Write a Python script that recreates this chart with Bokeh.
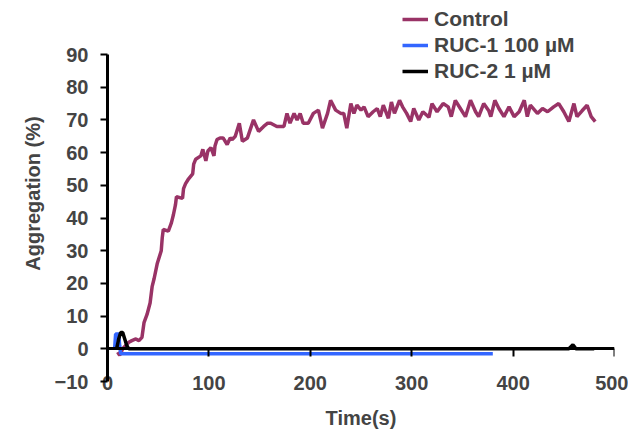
from bokeh.plotting import figure
from bokeh.models import LinearAxis, FixedTicker, Legend, LegendItem, CustomJSTickFormatter, Range1d
from bokeh.embed import file_html
from bokeh.resources import INLINE

# ---- data ----
ctrl_t = [10, 12, 15, 18, 21, 24, 28, 31, 34, 36, 39, 42, 44, 46, 49, 51, 53, 54, 55, 60,
          63, 65, 67, 68, 74, 75, 77, 80, 84, 85, 87, 92, 94, 97, 99, 102, 105, 106, 108, 111,
          114, 118, 121, 123, 126, 130, 133, 138, 144, 149, 154, 158, 161, 167, 174, 177, 180,
          184, 187, 190, 193, 198, 203, 208, 212, 217, 220, 225, 230, 233, 236, 240, 243, 246,
          250, 253, 257, 262, 266, 269, 272, 277, 280, 283, 288, 291, 295, 299, 302, 307, 311,
          317, 320, 325, 331, 336, 339, 343, 348, 353, 358, 363, 366, 371, 376, 378, 382, 386,
          391, 396, 401, 406, 411, 414, 417, 424, 429, 434, 440, 445, 450, 455, 460, 463, 468,
          473, 477, 481]
ctrl_v = [-1, -2, 0, 1, 2, 2.5, 3, 2.5, 3.5, 8, 10.5, 14, 19, 21.5, 26, 28, 30, 34, 36.5, 36,
          38.5, 41, 44, 46.5, 46, 49, 50.5, 52, 53.5, 56.5, 58, 59, 61, 57.5, 60.5, 61.5, 59, 62,
          64, 64.5, 64.5, 62.5, 64.5, 64, 65, 69, 63.5, 64.5, 70, 66.5, 68, 69, 69, 68, 68, 72,
          69, 72, 70, 72, 69, 69, 72, 73, 67.5, 72, 76, 73, 72, 72, 67.5, 75, 72, 74.5,
          73, 74, 71, 72.5, 73.5, 71, 74.5, 70.5, 75.5, 72, 76, 74, 72, 69.5, 73.5, 70, 72.5,
          70.8, 75, 72.5, 75, 74, 71, 76, 73.5, 71, 76, 72.5, 71, 75, 72.8, 71, 76, 73.5,
          71, 74, 71, 72.5, 76, 71, 74.5, 72, 73.5, 72.5, 74, 75, 72.5, 69.5, 75, 71, 72.8,
          74.5, 71, 69.5]

ruc1_t = [7, 8, 11, 12, 13, 380]
ruc1_v = [0, 4.5, 4.5, 1, -1.5, -1.5]

ruc2_t = [9, 11, 13, 15, 17, 19, 21, 455, 459, 462, 480]
ruc2_v = [0, 3, 5, 5, 3, 1, 0, 0, 1.2, 0, 0]

series_names = ["Control", "RUC-1 100 \u00b5M", "RUC-2 1 \u00b5M"]
series_colors = ["#993366", "#3366FF", "#000000"]

x_ticks = [0, 100, 200, 300, 400, 500]
y_ticks = [-10, 0, 10, 20, 30, 40, 50, 60, 70, 80, 90]

FONT = "Liberation Sans"

p = figure(frame_width=507, frame_height=376, output_backend="svg", toolbar_location=None,
           x_range=Range1d(0, 500), y_range=Range1d(-10, 105),
           min_border_left=107, min_border_top=5, min_border_right=14, min_border_bottom=5,
           background_fill_color="white", border_fill_color="white")
p.outline_line_color = None
p.grid.visible = False

r_c = p.line(ctrl_t, ctrl_v, line_color=series_colors[0], line_width=3.5)
r_1 = p.line(ruc1_t, ruc1_v, line_color=series_colors[1], line_width=3.5)
r_2 = p.line(ruc2_t, ruc2_v, line_color=series_colors[2], line_width=3.5)

# y axis
ya = p.yaxis[0]
ya.ticker = FixedTicker(ticks=y_ticks)
ya.bounds = (-10, 90)
ya.axis_line_width = 3
ya.major_tick_line_width = 2
ya.major_tick_out = 7
ya.major_tick_in = 0
ya.minor_tick_line_color = None
ya.major_label_text_font = FONT
ya.major_label_text_font_style = "bold"
ya.major_label_text_font_size = "20px"
ya.major_label_standoff = 12
ya.axis_label = "Aggregation (%)"
ya.axis_label_text_font = FONT
ya.axis_label_text_font_style = "bold"
ya.axis_label_text_font_size = "20px"
ya.axis_label_standoff = 8

# x axis labels (bottom)
xa = p.xaxis[0]
xa.ticker = FixedTicker(ticks=x_ticks)
xa.axis_line_color = None
xa.major_tick_line_color = None
xa.major_tick_out = 0
xa.major_tick_in = 0
xa.minor_tick_line_color = None
xa.major_label_text_font = FONT
xa.major_label_text_font_style = "bold"
xa.major_label_text_font_size = "20px"
xa.major_label_standoff = -6
xa.axis_label = "Time(s)"
xa.axis_label_text_font = FONT
xa.axis_label_text_font_style = "bold"
xa.axis_label_text_font_size = "20px"
xa.axis_label_standoff = 14

# x axis line at y = 0
x0 = LinearAxis(fixed_location=0, ticker=FixedTicker(ticks=x_ticks[1:]),
                formatter=CustomJSTickFormatter(code="return ''"))
x0.axis_line_width = 3
x0.major_tick_line_width = 2
x0.major_tick_out = 8
x0.major_tick_in = 0
x0.minor_tick_line_color = None
p.add_layout(x0, "below")

legend = Legend(items=[LegendItem(label=series_names[0], renderers=[r_c]),
                       LegendItem(label=series_names[1], renderers=[r_1]),
                       LegendItem(label=series_names[2], renderers=[r_2])],
                location=(295, 298), orientation="vertical",
                label_text_font=FONT, label_text_font_style="bold", label_text_font_size="21px",
                label_height=22, glyph_height=22, glyph_width=26, label_standoff=6, spacing=2,
                padding=0, margin=0, border_line_color=None, background_fill_alpha=0)
p.add_layout(legend, "center")

open("out.html", "w").write(file_html(p, INLINE))
